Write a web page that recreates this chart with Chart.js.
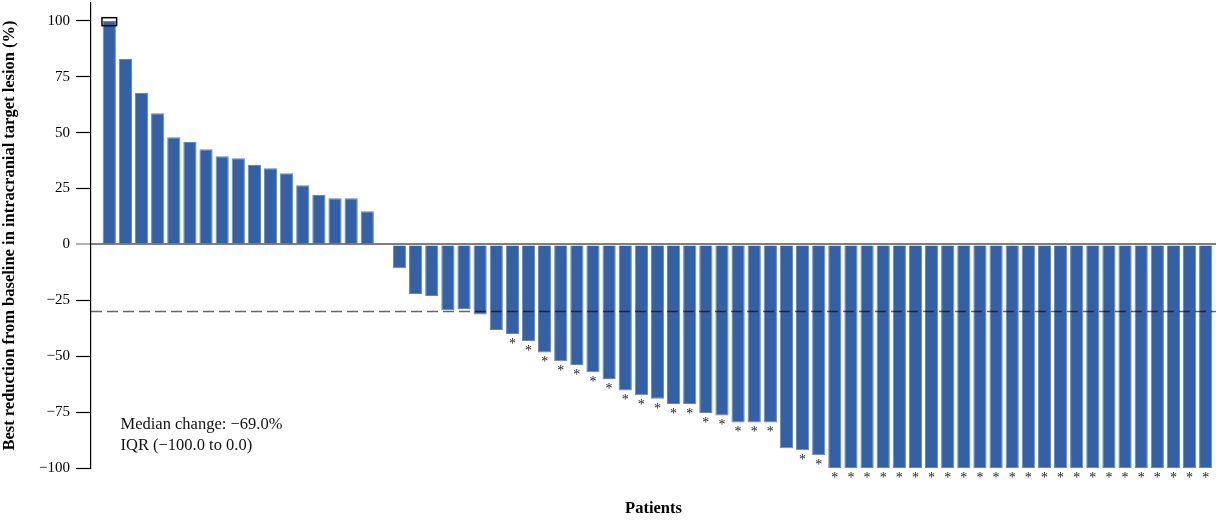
<!DOCTYPE html>
<html>
<head>
<meta charset="utf-8">
<script src="https://cdn.jsdelivr.net/npm/chart.js@4.4.1/dist/chart.umd.min.js"></script>
<style>
  html, body { margin: 0; padding: 0; background: #fff; }
  #wrap { width: 1216px; height: 523px; }
</style>
</head>
<body>
<div id="wrap"><canvas id="waterfall" width="1216" height="523"></canvas></div>
<script>
// Best change from baseline in intracranial target lesion (%), one value per patient, sorted
const bestChange = [
  100, 83.0, 67.7, 58.7, 48.0, 45.8, 42.6, 39.5, 38.6, 35.5, 34.1, 31.9, 26.5, 22.1, 20.7, 20.7, 14.9,
  0,
  -10.6, -22.2, -23.1, -29.4, -28.9, -31.3, -38.3, -40.1, -43.2, -48.3, -52.2, -53.9, -57.2, -60.2,
  -65.3, -67.5, -69.0, -71.4, -71.4, -75.4, -76.5, -79.6, -79.6, -79.6, -91.2, -92.1, -94.3,
  -100, -100, -100, -100, -100, -100, -100, -100, -100, -100, -100, -100,
  -100, -100, -100, -100, -100, -100, -100, -100, -100, -100, -100, -100
];

// 1 = asterisk printed below the patient's bar
const marked = [
  0, 0, 0, 0, 0, 0, 0, 0, 0, 0, 0, 0, 0, 0, 0, 0, 0,
  0,
  0, 0, 0, 0, 0, 0, 0, 1, 1, 1, 1, 1, 1, 1, 1, 1,
  1, 1, 1, 1, 1, 1, 1, 1, 0, 1, 1, 1,
  1, 1, 1, 1, 1, 1, 1, 1, 1, 1, 1, 1,
  1, 1, 1, 1, 1, 1, 1, 1, 1, 1, 1, 1
];

const patients = bestChange.map((_, i) => i + 1);
const yTicks = [-100, -75, -50, -25, 0, 25, 50, 75, 100];
const threshold = -30;          // partial-response reference line
const cappedPatient = 1;        // bar that runs past the top of the axis
const medianChange = -69.0;
const iqr = [-100.0, 0.0];

const SERIF = '"Liberation Serif", "Times New Roman", serif';
const minus = v => (v < 0 ? '\u2212' : '') + Math.abs(v);
const fmt1 = v => (v < 0 ? '\u2212' : '') + Math.abs(v).toFixed(1);

const overlay = {
  id: 'overlay',
  afterDatasetsDraw(chart) {
    const { ctx, chartArea: a, scales: { y } } = chart;
    const bars = chart.getDatasetMeta(0).data;
    ctx.save();

    // dashed -30% line
    const ty = y.getPixelForValue(threshold);
    ctx.strokeStyle = 'rgba(0,0,0,0.6)';
    ctx.lineWidth = 1.5;
    ctx.setLineDash([11, 5]);
    ctx.beginPath();
    ctx.moveTo(a.left, ty);
    ctx.lineTo(a.right, ty);
    ctx.stroke();
    ctx.setLineDash([]);

    // asterisks below marked bars
    ctx.font = '14px ' + SERIF;
    ctx.fillStyle = '#222';
    ctx.textAlign = 'center';
    ctx.textBaseline = 'alphabetic';
    const m = ctx.measureText('*');
    const mid = (m.actualBoundingBoxDescent - m.actualBoundingBoxAscent) / 2;
    bars.forEach((bar, i) => {
      if (marked[i]) ctx.fillText('*', bar.x, bar.y + 7 - mid);
    });

    // outline around the top of the capped bar
    const cb = bars[patients.indexOf(cappedPatient)];
    ctx.strokeStyle = '#000';
    ctx.lineWidth = 1.5;
    ctx.strokeRect(cb.x - cb.width / 2 - 0.7, cb.y - 3.2, cb.width + 1.4, 8);

    // summary text
    ctx.font = '16.5px ' + SERIF;
    ctx.fillStyle = '#111';
    ctx.textAlign = 'left';
    ctx.fillText('Median change: ' + fmt1(medianChange) + '%', a.left + 29.5, a.bottom - 39);
    ctx.fillText('IQR (' + fmt1(iqr[0]) + ' to ' + fmt1(iqr[1]) + ')', a.left + 29.5, a.bottom - 18.5);

    ctx.restore();
  }
};

new Chart(document.getElementById('waterfall'), {
  type: 'bar',
  data: {
    labels: patients,
    datasets: [{
      label: 'Best change (%)',
      data: bestChange.map((v, i) => ({ x: i, y: v })),
      backgroundColor: '#3461a5',
      borderColor: '#6487c2',
      borderWidth: 1,
      categoryPercentage: 1,
      barPercentage: 0.82
    }]
  },
  options: {
    responsive: false,
    animation: false,
    devicePixelRatio: 1,
    layout: { padding: { top: 3, left: 0, right: 0, bottom: 0 } },
    plugins: { legend: { display: false }, tooltip: { enabled: false } },
    scales: {
      x: {
        type: 'linear',
        min: -1.135,
        max: 68.64,
        offset: false,
        grid: { display: false },
        border: { display: false },
        ticks: { display: false },
        title: {
          display: true,
          text: 'Patients',
          color: '#000',
          font: { family: SERIF, size: 16.5, weight: 'bold' },
          padding: { top: 0, bottom: 4 }
        },
        afterFit(s) { s.height = 55; s.paddingLeft = 0; s.paddingRight = 0; }
      },
      y: {
        min: -100,
        max: 108,
        z: 1,
        afterBuildTicks(s) { s.ticks = yTicks.map(v => ({ value: v })); },
        ticks: {
          color: '#000',
          padding: 6,
          font: { family: SERIF, size: 15 },
          callback: v => minus(v)
        },
        grid: {
          drawOnChartArea: true,
          color: c => (c.tick && c.tick.value === 0 ? '#7f7f7f' : 'rgba(0,0,0,0)'),
          lineWidth: c => (c.tick && c.tick.value === 0 ? 2 : 1),
          tickColor: c => (c.tick && c.tick.value === 0 ? '#7f7f7f' : '#000'),
          tickWidth: 1.2,
          tickLength: 15
        },
        border: { color: '#000', width: 1.2 },
        title: {
          display: true,
          text: 'Best reduction from baseline in intracranial target lesion (%)',
          color: '#000',
          font: { family: SERIF, size: 16.5, weight: 'bold' },
          padding: { top: 0, bottom: 0 }
        },
        afterFit(s) { s.width = 91; s.paddingTop = 0; s.paddingBottom = 0; }
      }
    }
  },
  plugins: [overlay]
});
</script>
</body>
</html>
